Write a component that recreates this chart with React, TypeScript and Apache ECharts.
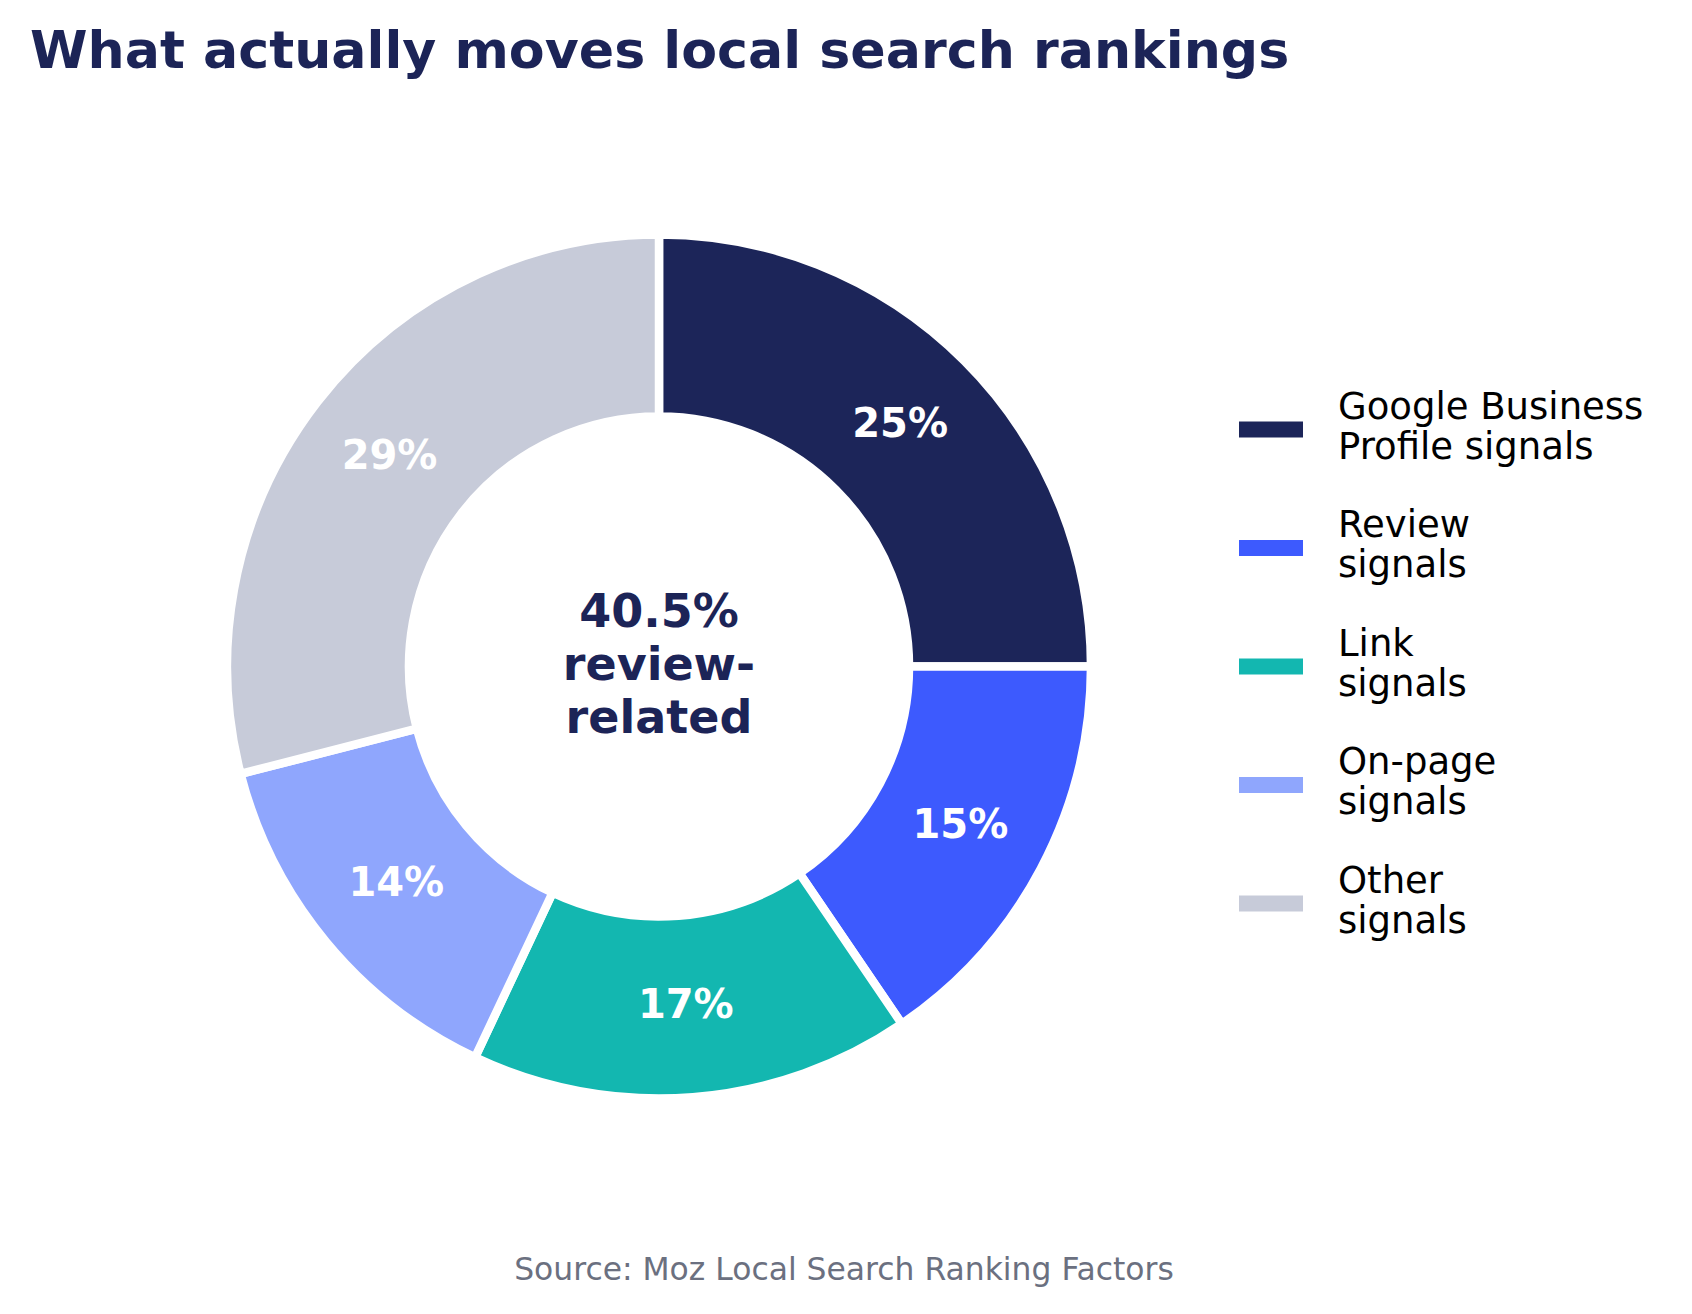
import React, { useEffect, useRef } from "react";
import * as echarts from "echarts";

const categories = [
  "Google Business Profile signals",
  "Review signals",
  "Link signals",
  "On-page signals",
  "Other signals",
];
const legendLabels = [
  "Google Business\nProfile signals",
  "Review\nsignals",
  "Link\nsignals",
  "On-page\nsignals",
  "Other\nsignals",
];
// share of ranking influence, in percent
const shares = [25, 15.5, 16.5, 14, 29];
// labels as printed on the slices
const sliceLabels = ["25%", "15%", "17%", "14%", "29%"];
const colors = ["#1c2559", "#3d5afe", "#13b7b0", "#8fa6fd", "#c7cbd9"];
const centerLabel = "40.5%\nreview-\nrelated";

const FONT = "DejaVu Sans";

const App: React.FC = () => {
  const chartRef = useRef<HTMLDivElement>(null);

  useEffect(() => {
    document.body.style.margin = "0";
    if (!chartRef.current) return;
    const chart = echarts.init(chartRef.current, undefined, { renderer: "svg" });

    chart.setOption({
      animation: false,
      backgroundColor: "#ffffff",
      title: {
        text: "What actually moves local search rankings",
        left: 30,
        top: 24,
        padding: 0,
        textStyle: {
          fontFamily: FONT,
          fontSize: 52.2,
          fontWeight: "bold",
          color: "#1c2457",
        },
      },
      legend: {
        orient: "vertical",
        left: 1237,
        top: 387.5,
        padding: 0,
        icon: "rect",
        itemWidth: 66,
        itemHeight: 18,
        itemGap: 36,
        selectedMode: false,
        data: categories,
        // trailing thin line lifts the two text lines a little above the swatch centre
        formatter: (name: string) =>
          legendLabels[categories.indexOf(name)]
            .split("\n")
            .map((s) => `{a|${s}}`)
            .join("\n") + "\n{b| }",
        textStyle: {
          color: "#000000",
          padding: [0, 0, 0, 29],
          rich: {
            a: { fontFamily: FONT, fontSize: 37, lineHeight: 40, color: "#000000" },
            b: { fontFamily: FONT, fontSize: 1, lineHeight: 7 },
          },
        },
      },
      graphic: [
        {
          type: "text",
          x: 659,
          y: 664,
          style: {
            text: centerLabel,
            fontFamily: FONT,
            fontSize: 46,
            fontWeight: "bold",
            lineHeight: 53,
            fill: "#1c2457",
            textAlign: "center",
            textVerticalAlign: "middle",
          },
        },
        {
          type: "text",
          x: 844,
          y: 1269,
          style: {
            text: "Source: Moz Local Search Ranking Factors",
            fontFamily: FONT,
            fontSize: 31.4,
            fill: "#6b7080",
            textAlign: "center",
            textVerticalAlign: "middle",
          },
        },
      ],
      series: [
        {
          type: "pie",
          center: [659, 666.5],
          radius: [250, 432],
          startAngle: 90,
          clockwise: true,
          silent: true,
          itemStyle: {
            borderColor: "#ffffff",
            borderWidth: 8.5,
          },
          label: { show: false },
          labelLine: { show: false },
          data: categories.map((name, i) => ({
            name,
            value: shares[i],
            itemStyle: { color: colors[i] },
          })),
        },
        {
          // transparent twin ring that carries the percentage labels
          type: "pie",
          center: [659, 666.5],
          radius: [244, 432],
          startAngle: 90,
          clockwise: true,
          silent: true,
          z: 3,
          itemStyle: { color: "rgba(0,0,0,0)" },
          label: {
            show: true,
            position: "inside",
            offset: [0, -2],
            formatter: (p: { dataIndex: number }) => sliceLabels[p.dataIndex],
            fontFamily: FONT,
            fontSize: 40,
            fontWeight: "bold",
            color: "#ffffff",
          },
          labelLine: { show: false },
          data: categories.map((name, i) => ({ name, value: shares[i] })),
        },
      ],
    });

    return () => {
      chart.dispose();
    };
  }, []);

  return <div ref={chartRef} style={{ width: "1692px", height: "1314px" }} />;
};

export default App;
